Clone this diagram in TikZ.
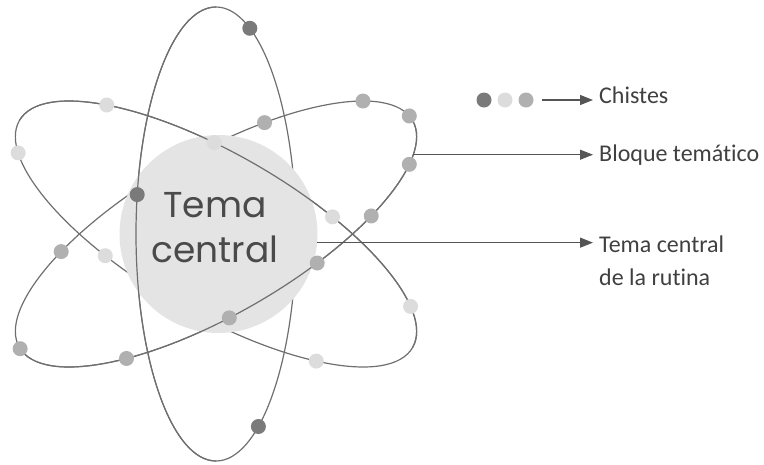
\documentclass[tikz,border=0pt]{standalone}
\usepackage{fontspec}
\setmainfont{Carlito}[Ligatures={NoCommon}]
\newfontfamily\geofont{Poppins}
\usetikzlibrary{arrows.meta}
\definecolor{orbitc}{HTML}{6F6F6F}
\definecolor{dotdark}{HTML}{7A7A7A}
\definecolor{dotlight}{HTML}{DCDCDC}
\definecolor{dotmid}{HTML}{B0B0B0}
\definecolor{corefill}{HTML}{E4E4E4}
\definecolor{coretext}{HTML}{4A4A4A}
\definecolor{labelc}{HTML}{404040}
\definecolor{arrowc}{HTML}{555555}
\begin{document}
\begin{tikzpicture}[x=1pt,y=1pt,
  orbit/.style={draw=orbitc, line width=1.2pt},
  dotbase/.style={circle, inner sep=0pt, minimum size=15pt},
  dk/.style={dotbase, fill=dotdark},
  lt/.style={dotbase, fill=dotlight},
  md/.style={dotbase, fill=dotmid},
  pointer/.style={draw=arrowc, line width=1.2pt, -{Triangle[length=13pt,width=10pt]}},
  lbl/.style={anchor=base west, inner sep=0pt, text=labelc, font=\fontsize{24}{33}\selectfont}]
\useasboundingbox (0,0) rectangle (764,-464);

% full orbits (back parts)
\foreach \ang in {90,30,-30}
  \draw[orbit, rotate around={\ang:(216,-234)}] (216,-234) ellipse [x radius=227pt, y radius=80pt];

% central circle
\node[circle, fill=corefill, inner sep=0pt, minimum size=198pt] (core) at (218.5,-234) {};

% front parts of orbits
\begin{scope}[shift={(216,-234)}, rotate=90]
  \draw[orbit] (0:227pt and 80pt) arc[start angle=0, end angle=180, x radius=227pt, y radius=80pt];
\end{scope}
\begin{scope}[shift={(216,-234)}, rotate=-30]
  \draw[orbit] (0:227pt and 80pt) arc[start angle=0, end angle=180, x radius=227pt, y radius=80pt];
\end{scope}
\begin{scope}[shift={(216,-234)}, rotate=30]
  \draw[orbit] (180:227pt and 80pt) arc[start angle=180, end angle=360, x radius=227pt, y radius=80pt];
\end{scope}

% dots on orbits
\begin{scope}[shift={(216,-234)}, rotate=90]
  \node[dk] (v1) at (-25:227pt and 80pt) {};
  \node[dk] (v2) at (212:227pt and 80pt) {};
  \node[dk] (v3) at (80:227pt and 80pt) {};
\end{scope}
\begin{scope}[shift={(216,-234)}, rotate=-30]
  \node[lt] (a1) at (134.5:227pt and 80pt) {};
  \node[lt] (a2) at (201:227pt and 80pt) {};
  \node[lt] (a3) at (102:227pt and 80pt) {};
  \node[lt] (a4) at (66:227pt and 80pt) {};
  \node[lt] (a5) at (25.6:227pt and 80pt) {};
  \node[lt] (a6) at (-48.5:227pt and 80pt) {};
  \node[lt] (a7) at (248:227pt and 80pt) {};
\end{scope}
\begin{scope}[shift={(216,-234)}, rotate=30]
  \node[md] (b1) at (31.4:227pt and 80pt) {};
  \node[md] (b2) at (4:227pt and 80pt) {};
  \node[md] (b3) at (-27:227pt and 80pt) {};
  \node[md] (b4) at (-50.8:227pt and 80pt) {};
  \node[md] (b5) at (-71.2:227pt and 80pt) {};
  \node[md] (b6) at (-97.7:227pt and 80pt) {};
  \node[md] (b7) at (-128:227pt and 80pt) {};
  \node[md] (b8) at (181:227pt and 80pt) {};
  \node[md] (b9) at (129:227pt and 80pt) {};
  \node[md] (b10) at (64.5:227pt and 80pt) {};
  \coordinate (bq) at (-22:227pt and 80pt);
\end{scope}

% central text
\node[font=\geofont\fontsize{36}{45}\selectfont, text=coretext, anchor=base, inner sep=0pt] (ctext) at (215,-217)
  {\begin{tabular}[t]{@{}c@{}}Tema\\central\end{tabular}};

% legend
\node[dk] (ld1) at (484,-100) {};
\node[lt] (ld2) at (505,-100) {};
\node[md] (ld3) at (526,-100) {};

% labels
\node[lbl] (chist) at (599,-103) {Chistes};
\node[lbl] (bloq) at (599,-161) {Bloque temático};
\node[lbl] (tcr) at (599,-252) {\begin{tabular}[t]{@{}l@{}}Tema central\\de la rutina\end{tabular}};

% pointers
\draw[pointer, shorten <=8pt, shorten >=6pt] (ld3) -- (ld3 -| chist.west);
\draw[pointer, shorten >=6pt] (bq) -- (bq -| bloq.west);
\draw[pointer, shorten >=6pt] (core.-5.2) -- (core.-5.2 -| tcr.west);
\end{tikzpicture}
\end{document}
